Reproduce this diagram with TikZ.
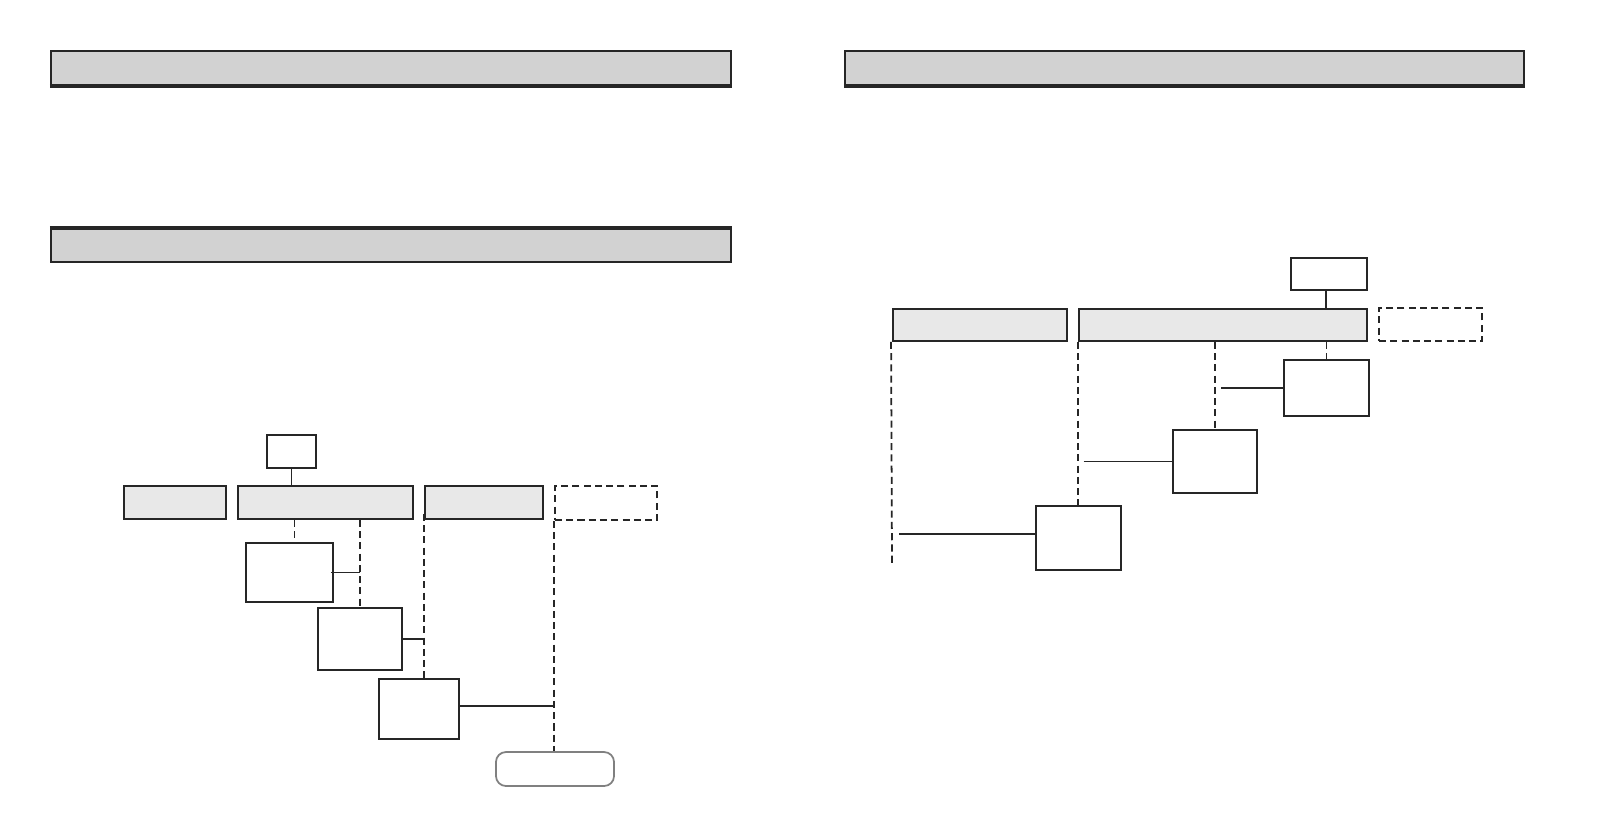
\documentclass[tikz,border=0pt]{standalone}
\usetikzlibrary{positioning, calc}

\tikzset{
  hdrbar/.style={draw=black!85, line width=0.55pt, fill=gray!35, inner sep=0pt},
  unitbox/.style={draw=black!85, line width=0.5pt, fill=gray!18, inner sep=0pt},
  plainbox/.style={draw=black!85, line width=0.5pt, fill=white, inner sep=0pt},
  optbox/.style={draw=black!85, line width=0.5pt, dash pattern=on 2pt off 1.2pt, inner sep=0pt},
  endbox/.style={draw=black!50, line width=0.5pt, rounded corners=1mm, inner sep=0pt},
  link/.style={draw=black!85, line width=0.5pt},
  dlink/.style={draw=black!85, line width=0.5pt, dash pattern=on 2pt off 1.2pt}
}

\begin{document}
\begin{tikzpicture}[x=0.01cm, y=-0.01cm]
    \useasboundingbox (0,0) rectangle (1598,838);

    % header bars
    \node[hdrbar, minimum width=6.8cm, minimum height=0.34cm] (barA) at (391,68) {};
    \node[hdrbar, minimum width=6.8cm, minimum height=0.33cm] (barB) at (391,245.5) {};
    \node[hdrbar, minimum width=6.79cm, minimum height=0.34cm] (barC) at (1184.5,68) {};
    \draw[line width=1pt, black!85] (barA.south west) -- (barA.south east);
    \draw[line width=1pt, black!85] (barB.north west) -- (barB.north east);
    \draw[line width=1pt, black!85] (barC.south west) -- (barC.south east);

    % ;- left tree ;-
    \node[plainbox, minimum width=0.49cm, minimum height=0.33cm] (lTop) at (291.5,451.5) {};
    % row of units
    \node[unitbox, minimum width=1.02cm, minimum height=0.33cm] (lA) at (175,502.5) {};
    \node[unitbox, minimum width=1.75cm, minimum height=0.33cm] (lB) at (325.5,502.5) {};
    \node[unitbox, minimum width=1.18cm, minimum height=0.33cm] (lC) at (484,502.5) {};
    \node[optbox,  minimum width=1.02cm, minimum height=0.34cm] (lD) at (606,503) {};
    % staircase of blocks
    \node[plainbox, minimum width=0.87cm, minimum height=0.59cm] (lE) at (289.5,572.5) {};
    \node[plainbox, minimum width=0.84cm, minimum height=0.62cm] (lF) at (360,639) {};
    \node[plainbox, minimum width=0.80cm, minimum height=0.60cm] (lG) at (419,709) {};
    \node[endbox,   minimum width=1.18cm, minimum height=0.34cm] (lH) at (555,769) {};

    \draw[link] (lTop.south) -- (lTop.south |- lB.north);
    \draw[dlink] ($(lE.north |- lB.south)+(5,0)$) -- ($(lE.north)+(5,0)$);
    \draw[dlink] (lF.north |- lB.south) -- (lF.north);
    \draw[link] ($(lE.east)+(-3,0)$) -- (lE.east -| lF.north);
    \draw[dlink] ($(lC.south west)+(0,-6)$) -- (lC.south west |- lG.north);
    \draw[link] (lF.east) -- (lF.east -| lC.south west);
    \draw[dlink] (lD.south west) -- (lD.south west |- lH.north);
    \draw[link] ($(lG.east)+(0,-3)$) -- ($(lG.east -| lD.south west)+(0,-3)$);

    % ;- right tree ;-
    \node[plainbox, minimum width=0.76cm, minimum height=0.32cm] (rTop) at (1329,274) {};
    \node[unitbox, minimum width=1.74cm, minimum height=0.32cm] (rP) at (980,325) {};
    \node[unitbox, minimum width=2.88cm, minimum height=0.32cm] (rQ) at (1223,325) {};
    \node[optbox,  minimum width=1.03cm, minimum height=0.33cm] (rR) at (1430.5,324.5) {};
    \node[plainbox, minimum width=0.85cm, minimum height=0.56cm] (rS) at (1326.5,388) {};
    \node[plainbox, minimum width=0.84cm, minimum height=0.63cm] (rT) at (1215,461.5) {};
    \node[plainbox, minimum width=0.85cm, minimum height=0.64cm] (rU) at (1078.5,538) {};
    \coordinate (rEnd) at (892,563);

    \draw[link] ($(rTop.south)+(-3,0)$) -- ($(rTop.south |- rQ.north)+(-3,0)$);
    \draw[dlink] (rS.north |- rQ.south) -- (rS.north);
    \draw[dlink] (rT.north |- rQ.south) -- (rT.north);
    \draw[link] ($(rT.north |- rS.west)+(6,0)$) -- (rS.west);
    \draw[dlink] (rQ.south west) -- (rQ.south west |- rU.north);
    \draw[link] ($(rU.north |- rT.west)+(5,0)$) -- (rT.west);
    \draw[dlink] ($(rP.south west)+(-1,0)$) -- (rEnd);
    \draw[link] ($(rEnd |- rU.west)+(7,-4)$) -- ($(rU.west)+(0,-4)$);
\end{tikzpicture}
\end{document}
